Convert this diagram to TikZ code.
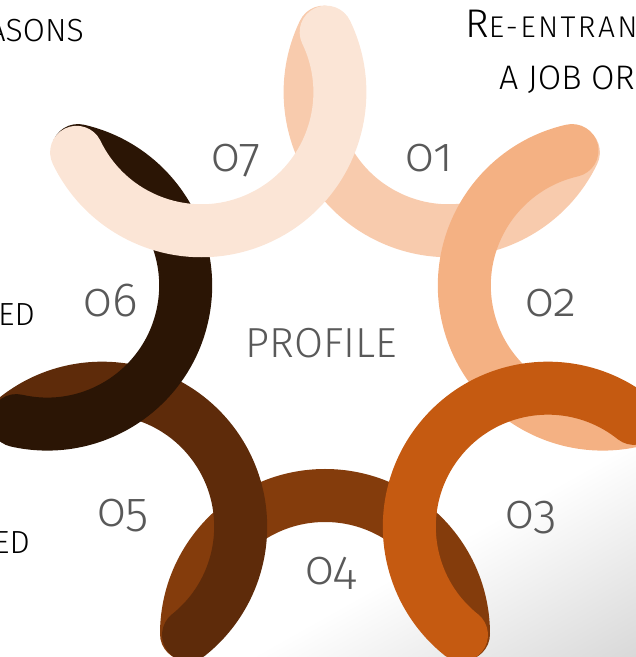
\documentclass[tikz,border=0pt]{standalone}
\usepackage{fontspec}
\setmainfont{Fira Sans Light}[Numbers=OldStyle]

\definecolor{ringA}{HTML}{F8CBAD}
\definecolor{ringB}{HTML}{F4B183}
\definecolor{ringC}{HTML}{C55A11}
\definecolor{ringD}{HTML}{843C0C}
\definecolor{ringE}{HTML}{5E2B0A}
\definecolor{ringF}{HTML}{2B1505}
\definecolor{ringG}{HTML}{FBE5D6}
\definecolor{numgray}{HTML}{595959}

\begin{document}
\begin{tikzpicture}[x=1pt,y=1pt,
  ring/.style={line width=53pt, line cap=round},
  num/.style={text=numgray, font=\fontsize{48}{48}\selectfont, anchor=base, inner sep=0pt},
  side/.style={text=black, font=\fontsize{32}{32}\selectfont, inner sep=0pt}]
\path[use as bounding box, clip] (0,0) rectangle (636,657);
% shadow in the corner:
\begin{scope}[transform canvas={rotate around={29.3:(636,217)}}]
\shade[top color=white, bottom color=black!15] (150,217) rectangle (950,28);
\end{scope}
% ring centres:
\coordinate (o) at (325,308);
\path (o) ++(64.29:285) coordinate (c1);
\path (o) ++(12.86:285) coordinate (c2);
\path (o) ++(-38.57:285) coordinate (c3);
\path (o) ++(-90:285) coordinate (c4);
\path (o) ++(-141.43:285) coordinate (c5);
\path (o) ++(167.14:285) coordinate (c6);
\path (o) ++(115.71:285) coordinate (c7);
% rings, back to front:
\draw[ring, ringD] (c4) ++(0:138.5) arc[start angle=0, end angle=180, radius=138.5];
\draw[ring, ringA] (c1) ++(154.29:138.5) arc[start angle=154.29, end angle=334.29, radius=138.5];
\draw[ring, ringB] (c2) ++(102.86:138.5) arc[start angle=102.86, end angle=282.86, radius=138.5];
\draw[ring, ringC] (c3) ++(51.43:138.5) arc[start angle=51.43, end angle=231.43, radius=138.5];
\draw[ring, ringE] (c5) ++(-51.43:138.5) arc[start angle=-51.43, end angle=128.57, radius=138.5];
\draw[ring, ringF] (c6) ++(-102.86:138.5) arc[start angle=-102.86, end angle=77.14, radius=138.5];
\draw[ring, ringG] (c7) ++(-154.29:138.5) arc[start angle=-154.29, end angle=25.71, radius=138.5];
% numbers:
\node[num] (n01) at (429,485) {01};
\node[num] (n02) at (551,340) {02};
\node[num] (n03) at (531,128) {03};
\node[num] (n04) at (331,72) {04};
\node[num] (n05) at (123,130) {05};
\node[num] (n06) at (111,340) {06};
\node[num] (n07) at (236,485) {07};
\node[text=numgray, font=\fontsize{42}{42}\selectfont] (profile) at (321.5,314) {PROFILE};
% cut-off side texts:
\node[side, anchor=base east] (reasons) at (84,615) {ASONS};
\node[side, anchor=base west] (reentry) at (465,619)
  {{\fontsize{40}{40}\selectfont R}{\fontsize{30}{30}\selectfont\addfontfeatures{LetterSpace=8}E-ENTRAN}};
\node[side, anchor=base west, font=\fontsize{34}{34}\selectfont] (job) at (499,567) {A JOB OR};
\node[side, anchor=base east] (edA) at (35,331) {ED};
\node[side, anchor=base east] (edB) at (30,103) {ED};
\end{tikzpicture}
\end{document}
